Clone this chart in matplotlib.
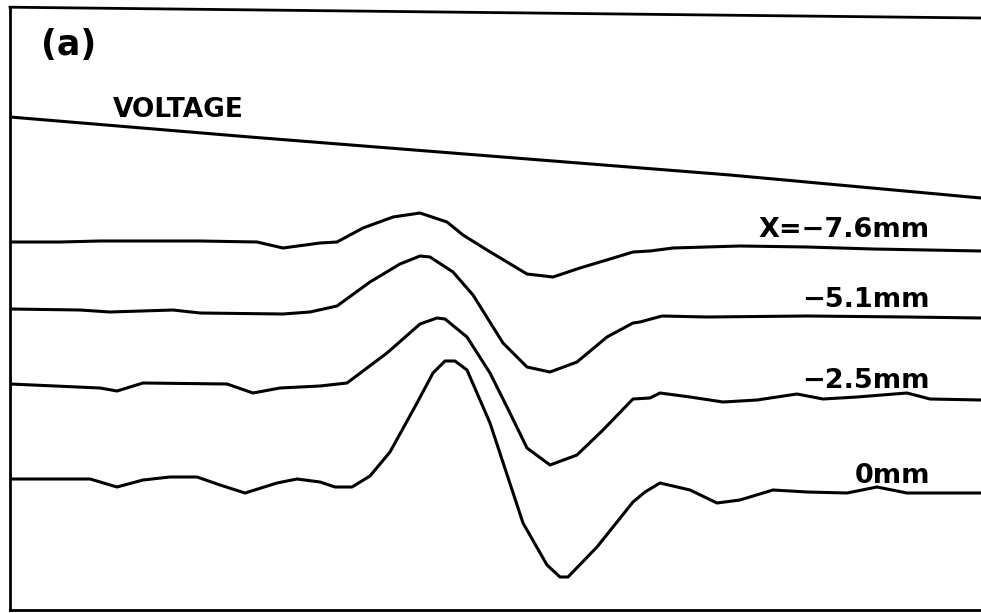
"""
Probe signal traces at several transverse positions, stacked above the
applied voltage ramp. Plain frame, no ticks, labels written on the traces.
"""

import matplotlib
matplotlib.use("Agg")
import matplotlib.pyplot as plt

# --------------------------------------------------------------------------- #
#  Data (time in arbitrary sample units, amplitude in arbitrary units)
# --------------------------------------------------------------------------- #
T_VOLT = [0, 240, 480, 720, 971]
V_VOLT = [493, 473, 454, 435, 412]

T_X76 = [0, 50, 90, 140, 190, 247, 273, 310, 327, 353, 383, 410, 437, 453,
         477, 497, 517, 543, 570, 600, 623, 640, 663, 730, 797, 863, 971]
V_X76 = [368, 368, 369, 369, 369, 368, 362, 367, 368, 382, 393, 397, 388, 375,
         360, 348, 336, 333, 342, 351, 358, 359, 362, 364, 363, 361, 359]

T_X51 = [0, 70, 100, 163, 190, 273, 300, 327, 360, 390, 410, 420, 443, 463,
         493, 517, 540, 567, 597, 623, 630, 652, 697, 797, 897, 971]
V_X51 = [301, 300, 298, 300, 297, 296, 298, 304, 328, 346, 354, 353, 338, 315,
         267, 243, 238, 248, 273, 287, 288, 294, 293, 294, 293, 292]

T_X25 = [0, 90, 107, 133, 217, 243, 270, 310, 337, 377, 410, 427, 435, 457,
         480, 497, 517, 540, 567, 593, 623, 640, 650, 680, 713, 747, 787, 813,
         847, 897, 920, 971]
V_X25 = [226, 222, 219, 227, 226, 217, 222, 224, 227, 257, 286, 292, 291, 273,
         237, 203, 162, 145, 155, 180, 211, 212, 217, 213, 208, 210, 216, 211,
         213, 217, 211, 210]

T_X0 = [0, 80, 107, 133, 160, 187, 210, 235, 267, 287, 310, 325, 342, 360,
        380, 407, 423, 435, 445, 457, 480, 513, 537, 550, 558, 587, 623, 635,
        650, 680, 707, 730, 763, 797, 837, 867, 897, 971]
V_X0 = [131, 131, 123, 130, 133, 133, 125, 117, 127, 131, 128, 123, 123, 134,
        158, 207, 237, 249, 249, 240, 187, 87, 45, 33, 33, 63, 108, 118,
        127, 120, 107, 110, 120, 118, 117, 123, 117, 117]

TRACES = [
    (T_X76, V_X76),
    (T_X51, V_X51),
    (T_X25, V_X25),
    (T_X0, V_X0),
]
TRACE_LABELS = ["X=\u22127.6mm", "\u22125.1mm", "\u22122.5mm", "0mm"]
LABEL_Y = [373, 303, 222, 127]

# --------------------------------------------------------------------------- #
#  Figure
# --------------------------------------------------------------------------- #
fig = plt.figure(figsize=(9.81, 6.13), dpi=100)
ax = fig.add_axes([10 / 981, 3 / 613, 971 / 981, 601 / 613])
ax.set_xlim(0, 971)
ax.set_ylim(0, 601)

for side in ("left", "bottom"):
    ax.spines[side].set_linewidth(2.0)
ax.spines["right"].set_visible(False)
ax.spines["top"].set_visible(False)
ax.set_xticks([])
ax.set_yticks([])

# top edge of the frame runs slightly downhill to the right
ax.plot([0, 1], [1.003, 0.985], transform=ax.transAxes, color="black",
        linewidth=2.0, clip_on=False)

LW = 2.2
ax.plot(T_VOLT, V_VOLT, color="black", linewidth=LW)
for (t, v) in TRACES:
    ax.plot(t, v, color="black", linewidth=LW, solid_joinstyle="round")

FONT = "DejaVu Sans"
for label, y in zip(TRACE_LABELS, LABEL_Y):
    ax.text(920, y, label, ha="right", va="baseline", fontsize=19.5,
            fontweight="bold", family=FONT)

ax.text(103, 493, "VOLTAGE", ha="left", va="baseline", fontsize=19,
        fontweight="bold", family=FONT)
ax.text(31, 565, "(a)", ha="left", va="center", fontsize=25,
        fontweight="bold", family=FONT)

fig.savefig("out.png", dpi=100)
